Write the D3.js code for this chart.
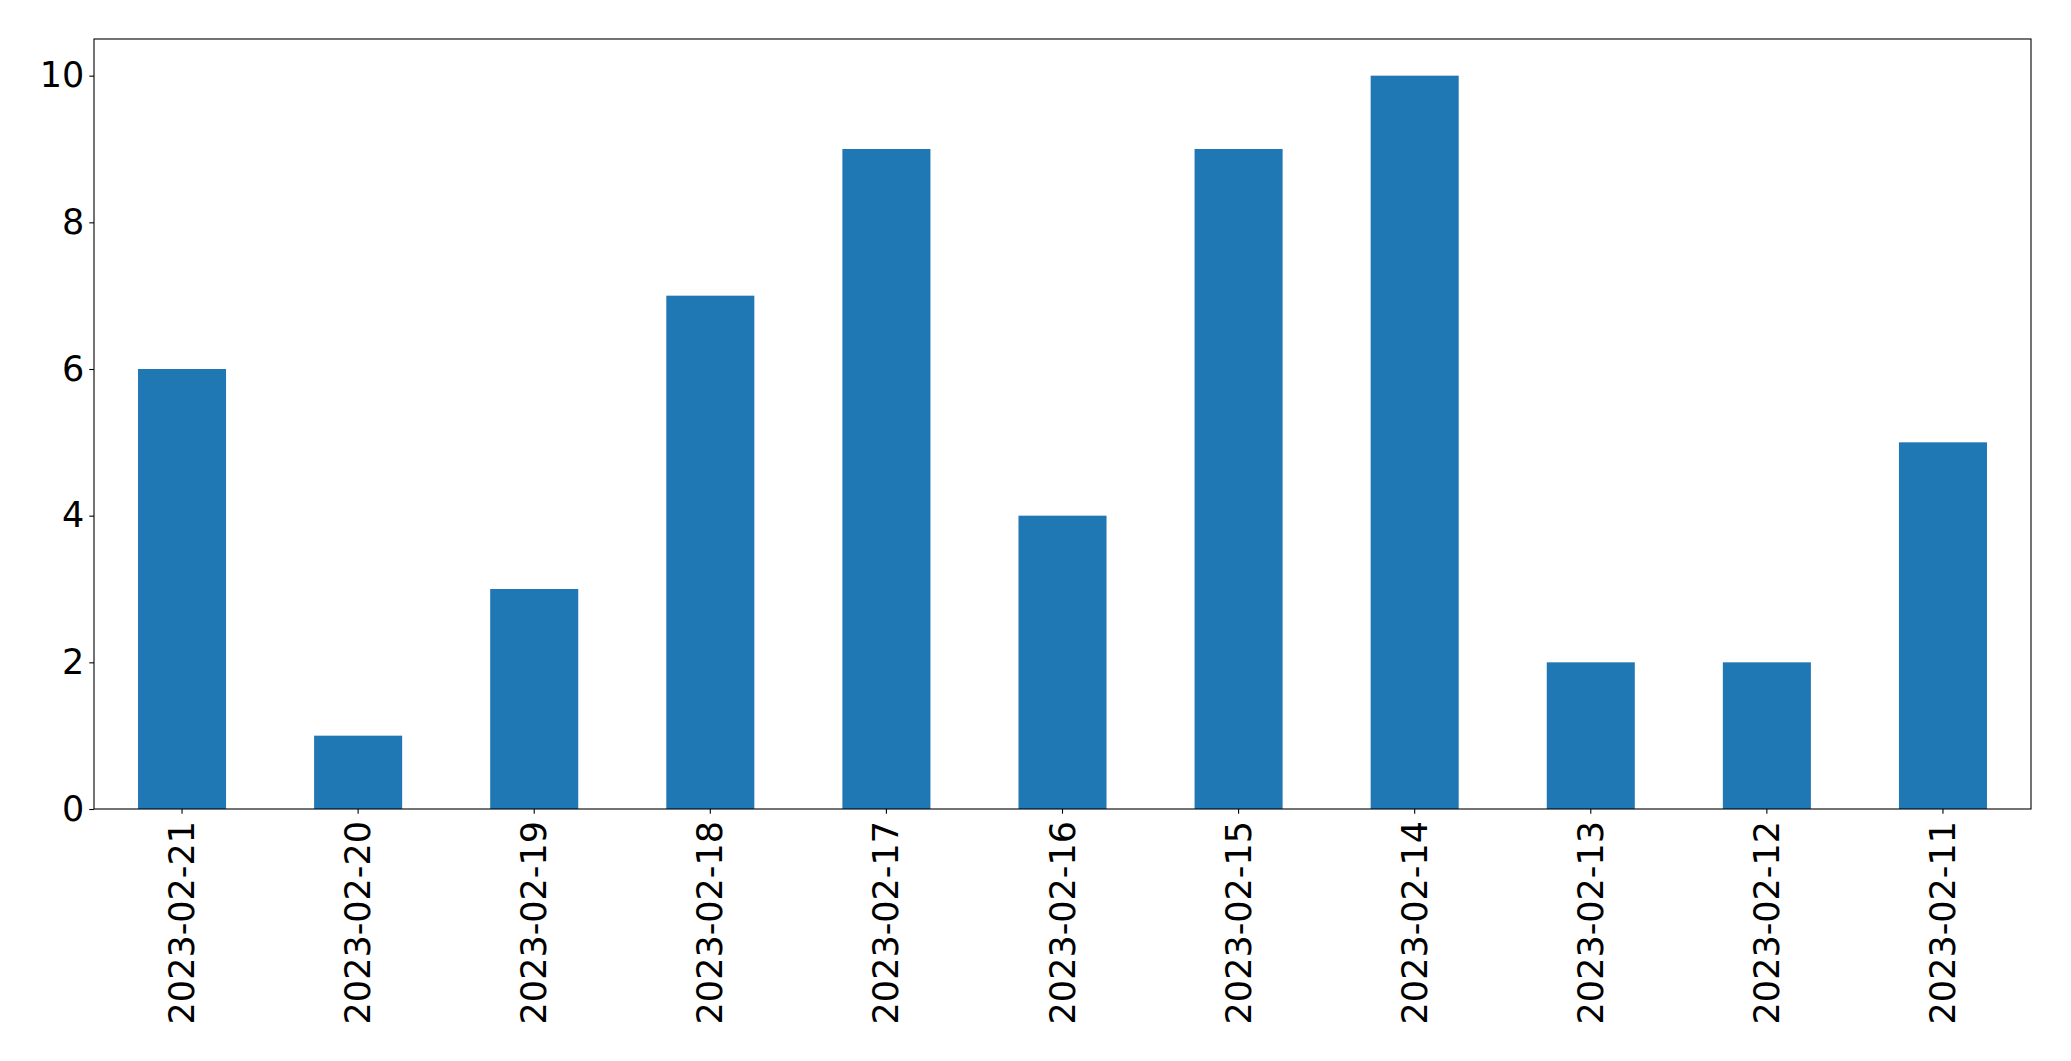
<!DOCTYPE html>
<html><head><meta charset="utf-8">
<script src="https://cdn.jsdelivr.net/npm/d3@7"></script>
<style>html,body{margin:0;padding:0;background:#fff;}svg{display:block;}</style>
</head><body>
<script>
const categories = ["2023-02-21","2023-02-20","2023-02-19","2023-02-18","2023-02-17","2023-02-16","2023-02-15","2023-02-14","2023-02-13","2023-02-12","2023-02-11"];
const values = [6,1,3,7,9,4,9,10,2,2,5];
const yTicks = [0,2,4,6,8,10];

const W = 2071, H = 1061;
const m = {left:94, right:2031, top:39, bottom:809};
const svg = d3.select("body").append("svg").attr("width",W).attr("height",H);

const x = d3.scaleBand().domain(categories).range([m.left,m.right]).paddingInner(0.5).paddingOuter(0.25);
const y = d3.scaleLinear().domain([0,10.5]).range([m.bottom,m.top]);

svg.append("g").selectAll("rect").data(values).join("rect")
  .attr("x",(d,i)=>x(categories[i]))
  .attr("width",x.bandwidth())
  .attr("y",d=>y(d))
  .attr("height",d=>y(0)-y(d))
  .attr("fill","#1f77b4");

const font = "'DejaVu Sans', sans-serif";
const fs = 35;

const yAxis = svg.append("g").attr("transform",`translate(${m.left},0)`)
  .call(d3.axisLeft(y).tickValues(yTicks).tickFormat(d3.format("d")).tickSize(4.7).tickPadding(5));
yAxis.select(".domain").remove();
yAxis.selectAll("text").attr("font-family",font).attr("font-size",fs).attr("fill","#000");
yAxis.selectAll("line").attr("stroke","#000").attr("stroke-width",1.1);

const xAxis = svg.append("g").attr("transform",`translate(0,${m.bottom})`)
  .call(d3.axisBottom(x).tickSize(4.7).tickPadding(5));
xAxis.select(".domain").remove();
xAxis.selectAll("line").attr("stroke","#000").attr("stroke-width",1.1);
xAxis.selectAll("text")
  .attr("font-family",font).attr("font-size",fs).attr("fill","#000")
  .attr("text-anchor","end").attr("dy",null).attr("y",null)
  .attr("dominant-baseline","central")
  .attr("transform","translate(0,12) rotate(-90)");

svg.append("rect").attr("x",m.left).attr("y",m.top)
  .attr("width",m.right-m.left).attr("height",m.bottom-m.top)
  .attr("fill","none").attr("stroke","#000").attr("stroke-width",1.1);
</script>
</body></html>
